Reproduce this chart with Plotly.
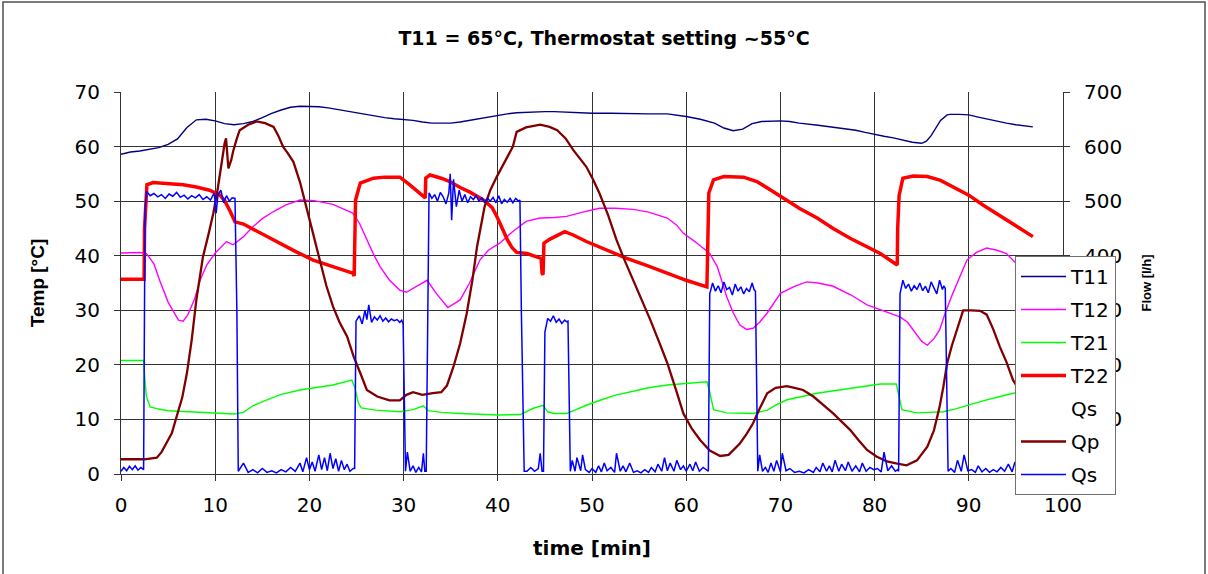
import plotly.graph_objects as go

# ---------------- data ----------------
t11_t = [0, 1, 2, 3, 4, 5, 6, 7, 8, 9, 10, 11, 12, 13, 14, 15, 16, 17, 18, 19, 20, 21, 22, 23, 24, 25, 26, 27, 28, 29, 30,
         31, 32, 33, 34, 35, 36, 37, 38, 39, 40, 41, 42, 43, 44, 45, 46, 47, 48, 49, 50, 52, 54, 56, 58, 59, 60, 61.5, 63, 64,
         65, 66, 67, 68, 69, 70, 71, 72, 74, 76, 78, 79, 80, 81, 82, 83, 84, 85, 85.5, 86, 86.5, 87, 87.7, 88, 89, 90, 91, 92,
         93, 94, 95, 96, 96.8]
t11_v = [58.6, 59.0, 59.2, 59.5, 59.8, 60.4, 61.4, 63.5, 64.9, 65.0, 64.7, 64.2, 64.0, 64.2, 64.6, 65.3, 66.1, 66.7, 67.2, 67.4, 67.4,
         67.3, 67.1, 66.8, 66.4, 66.1, 65.8, 65.5, 65.3, 65.1, 65.0, 64.8, 64.5, 64.3, 64.3, 64.3, 64.5, 64.8, 65.2, 65.5, 65.8,
         66.0, 66.2, 66.3, 66.4, 66.4, 66.4, 66.3, 66.2, 66.2, 66.1, 66.1, 66.0, 66.0, 66.0, 65.8, 65.5, 65.0, 64.3, 63.4,
         62.9, 63.2, 64.2, 64.6, 64.7, 64.7, 64.6, 64.3, 63.9, 63.5, 63.0, 62.6, 62.2, 61.9, 61.6, 61.2, 60.8, 60.6, 61.0,
         62.0, 63.5, 64.8, 65.8, 65.9, 65.9, 65.8, 65.4, 65.0, 64.6, 64.3, 64.0, 63.8, 63.6]

t12_t = [0, 1, 2, 2.7, 3.5, 4.1, 5, 6.1, 6.6, 7.1, 7.8, 8.4, 9.1, 10, 11.2, 11.9, 13, 14, 15, 16.2, 17.5, 19, 20.5, 22.5, 24.6,
         25.3, 26.1, 26.8, 27.5, 28.5, 29.6, 30.3, 31.5, 32.5, 33.5, 34.7, 36, 37, 38.1, 39, 40.2, 41.5, 43, 44.5, 46, 47.3,
         49, 50.8, 52.5, 54.4, 56, 58, 59, 59.7, 61, 62.5, 63.3, 64.3, 65, 65.7, 66.4, 67.1, 67.8, 68.6, 70, 71.5, 72.8, 74,
         75.6, 77.5, 79.2, 81, 82.7, 83.5, 84.1, 85, 85.6, 86.3, 86.9, 87.5, 88.3, 89, 89.8, 90.8, 91.9, 93, 94, 94.9, 96, 96.8]
t12_v = [40.5, 40.6, 40.6, 40.4, 38.5, 35.5, 31.5, 28.2, 28.0, 29.2, 32.0, 35.5, 38.3, 40.5, 42.6, 42.0, 43.5, 45.3, 46.8, 48.1,
         49.3, 50.2, 50.1, 49.4, 47.8, 46.0, 42.9, 40.3, 38.0, 35.5, 33.7, 33.3, 34.5, 35.5, 33.0, 30.5, 31.9, 35.0, 39.2, 41.0,
         42.3, 44.3, 46.3, 46.9, 47.0, 47.2, 48.0, 48.7, 48.7, 48.5, 48.0, 46.9, 45.6, 44.1, 42.5, 40.4, 38.0, 32.5, 29.5, 27.3,
         26.5, 26.7, 27.8, 29.5, 33.1, 34.4, 35.2, 35.0, 34.4, 32.8, 31.0, 29.9, 28.8, 27.8, 26.4, 24.3, 23.6, 24.8, 26.4, 29.5,
         33.1, 36.0, 39.2, 40.6, 41.4, 41.0, 40.4, 38.8, 37.8, 37.5]

t21_t = [0, 2.4, 2.55, 2.7, 3.1, 4, 5, 8, 10, 12, 13, 14, 15.5, 17, 19, 21, 22.5, 24.5, 24.8, 25.2, 25.5, 27, 29.6, 31, 32.1, 32.6,
         34, 36, 38, 40, 42.4, 43.7, 44.8, 45.3, 46, 47.3, 48.3, 49.4, 51, 52.6, 54.5, 56, 58, 60, 62.2, 62.5, 62.9, 64.3, 67.1,
         68.6, 69.5, 70.7, 72, 73.9, 75.5, 77.4, 79, 80.6, 82.3, 82.6, 82.9, 84.5, 87.3, 88.5, 89.8, 91.5, 93.3, 94.7, 96.8]
t21_v = [20.8, 20.8, 17.0, 14.2, 12.3, 11.9, 11.6, 11.4, 11.2, 11.0, 11.3, 12.5, 13.6, 14.6, 15.4, 15.9, 16.3, 17.2, 16.0, 13.0,
         12.1, 11.7, 11.4, 11.8, 12.5, 11.6, 11.3, 11.1, 10.9, 10.8, 10.9, 12.0, 12.6, 11.4, 11.1, 11.1, 11.8, 12.6, 13.6, 14.5,
         15.2, 15.8, 16.3, 16.6, 16.9, 15.0, 11.8, 11.2, 11.1, 11.7, 12.6, 13.6, 14.1, 14.8, 15.2, 15.7, 16.1, 16.5, 16.5, 14.0,
         11.8, 11.2, 11.4, 11.9, 12.6, 13.4, 14.2, 14.8, 15.2]

t22_t = [0, 2.45, 2.5, 2.6, 2.75, 3.4, 5, 6.6, 8, 9.4, 10.5, 11, 11.6, 12.1, 13, 14.5, 16.2, 18.5, 20.4, 22.5, 24.6, 24.75, 24.8,
         24.9, 25.4, 26.8, 28, 29.6, 30.5, 31.5, 32.3, 32.35, 32.8, 34, 34.9, 36, 37, 38.5, 39.4, 39.9, 40.5, 41, 41.5, 42, 43.1,
         44.6, 44.7, 44.8, 44.9, 45.5, 47.1, 48, 49.4, 51, 53.7, 56, 58, 60, 62.2, 62.3, 62.4, 62.9, 64, 66.1, 67.5, 69, 70.3,
         72, 73.9, 75.6, 77.4, 79, 80.6, 82.4, 82.45, 82.6, 83, 84.1, 85.6, 87, 88.3, 90, 91.5, 93.3, 95.1, 96.8]
t22_v = [35.7, 35.7, 45.0, 50.0, 53.0, 53.4, 53.2, 53.0, 52.6, 52.0, 51.1, 50.1, 48.1, 46.2, 45.8, 44.4, 42.9, 40.8, 39.2, 38.0,
         36.8, 36.3, 45.0, 50.2, 53.3, 54.2, 54.4, 54.4, 53.2, 51.8, 50.6, 54.2, 54.8, 54.2, 53.6, 52.5, 51.7, 50.2, 48.8, 47.2,
         44.8, 43.0, 41.5, 40.6, 40.4, 39.5, 36.8, 36.5, 42.3, 43.0, 44.4, 43.8, 42.6, 41.4, 39.5, 38.1, 36.8, 35.5, 34.3, 45.0,
         51.5, 53.9, 54.5, 54.4, 53.6, 52.0, 50.5, 48.7, 46.9, 45.0, 43.2, 41.8, 40.4, 38.3, 45.0, 51.0, 54.2, 54.6, 54.5, 53.8,
         52.7, 51.1, 49.3, 47.3, 45.3, 43.5]

qp_t = [0, 2.5, 3.8, 4.3, 4.8, 5.4, 5.9, 6.5, 7, 7.5, 8, 8.4, 8.7, 9.3, 9.8, 10.2, 10.5, 10.8, 11, 11.15, 11.3, 11.4, 11.7, 11.9,
        12.3, 12.6, 13.5, 14.4, 15.3, 16.2, 16.7, 17.2, 17.7, 18.3, 19, 19.7, 20.4, 21.1, 21.8, 22.5, 23.2, 24, 24.7, 25.4,
        26.1, 27.2, 28.5, 29.6, 30.3, 31, 32, 33.1, 34, 34.6, 35.3, 36, 36.7, 37.3, 37.8, 38.6, 39.2, 39.9, 40.8, 41.6, 42,
        43, 44.5, 45.5, 46.3, 47.2, 48, 48.7, 49.4, 50.1, 50.8, 51.7, 52.6, 53.5, 54.4, 55.3, 56.2, 57.1, 58, 58.9, 59.7,
        60.6, 61.5, 62.5, 63.6, 64.5, 65.1, 65.7, 66.4, 67.1, 67.8, 68.6, 69.5, 70.7, 71.5, 72.4, 73.5, 74.5, 75.6, 76.5,
        77.4, 78.3, 79.2, 80.2, 81.3, 82.4, 83.4, 84.5, 85.6, 86.3, 86.9, 87.3, 87.7, 88.2, 88.7, 89.4, 90.3, 91.2, 91.9,
        92.6, 93.3, 94, 94.7, 95.5, 96.2, 96.8]
qp_v = [27, 27, 30, 40, 56, 75, 105, 140, 185, 245, 319, 365, 398, 440, 478, 515, 551, 585, 606, 615, 570, 560, 575, 591,
        615, 630, 640, 646, 643, 636, 620, 600, 588, 572, 535, 490, 440, 392, 345, 307, 278, 252, 215, 185,
        154, 142, 135, 135, 145, 150, 145, 148, 150, 162, 197, 239, 294, 355, 417, 490, 520, 545, 575, 600, 627,
        635, 640, 636, 630, 615, 594, 578, 563, 540, 514, 475, 429, 390, 355, 318, 282, 243, 203, 155, 111,
        83, 62, 43, 33, 35, 45, 56, 73, 93, 120, 148, 158, 161, 158, 154, 142, 128, 111, 96,
        81, 62, 44, 32, 23, 19, 16, 25, 50, 80, 123, 160, 203, 235, 264, 300, 300, 299, 292,
        265, 233, 205, 172, 150, 140, 135]

qs_t = [0, 0.3, 0.6, 0.9, 1.2, 1.5, 1.8, 2.1, 2.4, 2.55, 2.7, 3.1, 3.5, 3.9, 4.3, 4.7, 5.1, 5.5, 5.9, 6.3, 6.7, 7.1, 7.5, 7.9,
        8.3, 8.7, 9.1, 9.5, 9.9, 10.1, 10.3, 10.6, 10.9, 11.2, 11.5, 11.8, 12.1, 12.3, 12.45,
        13, 13.5, 14, 14.5, 15, 15.5, 16, 16.5, 17, 17.5, 18, 18.5, 19, 19.3, 19.7, 20, 20.3, 20.6, 21, 21.3, 21.6, 21.9,
        22.2, 22.5, 22.8, 23.1, 23.4, 23.7, 24, 24.3, 24.65,
        24.8, 24.95, 25.3, 25.6, 25.9, 26.1, 26.3, 26.6, 26.9, 27.2, 27.5, 27.8, 28.1, 28.4, 28.7, 29.0, 29.3, 29.6, 29.8, 29.95,
        30.2, 30.4, 30.7, 31, 31.3, 31.6, 31.9, 32.1, 32.25,
        32.4, 32.7, 33.0, 33.3, 33.6, 33.9, 34.2, 34.5, 34.8, 34.95, 35.1, 35.3, 35.6, 35.9, 36.2, 36.5, 36.8, 37.1, 37.4,
        37.7, 38.0, 38.3, 38.6, 38.9, 39.2, 39.5, 39.8, 40.1, 40.4, 40.7, 41.0, 41.3, 41.6, 41.9, 42.2, 42.35, 42.5,
        42.8, 43.1, 43.5, 43.9, 44.3, 44.5, 44.7,
        44.85, 45.0, 45.3, 45.6, 45.9, 46.2, 46.5, 46.8, 47.1, 47.3, 47.45,
        47.7, 47.9, 48.2, 48.4, 48.8, 49.0, 49.3, 49.7, 50.0, 50.4, 50.7, 51, 51.3, 51.6, 52, 52.4, 52.6, 53, 53.3, 53.6, 54,
        54.4, 54.8, 55.2, 55.6, 56, 56.3, 56.7, 57, 57.4, 57.7, 58, 58.3, 58.7, 59, 59.4, 59.7, 60, 60.4, 60.7, 61, 61.4,
        61.8, 62.1, 62.25,
        62.35, 62.5, 62.8, 63.1, 63.4, 63.7, 64.0, 64.3, 64.6, 64.9, 65.2, 65.5, 65.8, 66.1, 66.4, 66.7, 67.0, 67.2, 67.35,
        67.6, 67.8, 68.1, 68.4, 68.7, 69, 69.3, 69.6, 70, 70.2, 70.6, 71, 71.5, 72, 72.5, 73, 73.5, 73.8, 74.2, 74.5, 74.9,
        75.2, 75.5, 75.8, 76.2, 76.5, 76.9, 77.2, 77.6, 78, 78.4, 78.7, 79.1, 79.5, 79.9, 80.3, 80.7, 81, 81.4, 81.8, 82.2, 82.45,
        82.55, 82.7, 83.0, 83.3, 83.6, 83.9, 84.2, 84.5, 84.8, 85.1, 85.4, 85.7, 86.0, 86.3, 86.6, 86.9, 87.2, 87.35, 87.5,
        87.8, 88.1, 88.5, 88.8, 89.2, 89.5, 89.9, 90.3, 90.7, 91.0, 91.4, 91.8, 92.2, 92.6, 93, 93.4, 93.8, 94.2, 94.6, 94.9,
        95.3, 95.7, 96.1, 96.5, 96.8]
qs_v = [5, 12, 6, 14, 8, 15, 7, 12, 8, 480, 518, 510, 514, 508, 512, 505, 513, 509, 516, 507, 511, 504, 510, 506,
        512, 503, 508, 502, 515, 478, 512, 520, 497, 510, 500, 506, 505, 300, 5,
        20, 3, 8, 2, 10, 3, 6, 2, 8, 4, 12, 5, 20, 4, 30, 8, 22, 5, 35, 8, 30, 6,
        38, 10, 28, 5, 25, 8, 18, 5, 10,
        10, 280, 290, 275, 300, 283, 310, 278, 288, 282, 290, 280, 286, 279, 284, 281, 283, 278, 282, 275, 5,
        40, 5, 15, 3, 12, 4, 38, 5, 5,
        515, 505, 512, 500, 516, 508, 495, 515, 550, 465, 540, 490, 520, 500, 512, 497, 508, 503, 510,
        500, 506, 498, 505, 500, 507, 497, 510, 495, 503, 498, 505, 497, 505, 500, 502, 300, 5,
        5, 12, 5, 10, 38, 5, 5,
        260, 285, 280, 290, 278, 284, 276, 282, 279, 280, 5,
        25, 5, 30, 6, 35, 8, 3, 10, 3, 15, 4, 20, 6, 12, 3, 38, 5, 15, 4, 20, 3,
        6, 2, 8, 3, 12, 4, 18, 5, 30, 6, 20, 5, 25, 8, 15, 5, 18, 6, 22, 5, 12,
        8, 5, 5,
        330, 350, 335, 345, 332, 352, 338, 342, 328, 348, 335, 343, 330, 340, 334, 350, 338, 335, 5,
        35, 5, 12, 3, 20, 5, 25, 4, 38, 6, 10, 3, 5, 2, 8, 3, 12, 4, 20, 5, 15,
        4, 25, 5, 18, 6, 22, 5, 15, 4, 20, 5, 12, 8, 10, 4, 40, 6, 15, 5, 8, 5,
        330, 355, 340, 348, 335, 345, 338, 350, 336, 344, 332, 352, 340, 330, 355, 338, 345, 340, 5,
        10, 3, 25, 5, 35, 6, 8, 3, 15, 4, 10, 3, 8, 4, 12, 5, 18, 4, 22, 5,
        10, 6, 15, 5, 8]

x_ticks = [0, 10, 20, 30, 40, 50, 60, 70, 80, 90, 100]

# ---------------- figure ----------------
WIDE = "DejaVu Sans, Verdana, sans-serif"
NARROW = "Liberation Sans, Arial, sans-serif"
fig = go.Figure()

def add(x, y, name, color, width, axis="y"):
    fig.add_trace(go.Scatter(x=x, y=y, name=name, mode="lines", yaxis=axis,
                             line=dict(color=color, width=width), legendgroup=name + axis + str(width)))

add(t11_t, t11_v, "T11", "#000080", 1.4)
add(t12_t, t12_v, "T12", "#FF00FF", 1.4)
add(t21_t, t21_v, "T21", "#00FF00", 1.4)
add(t22_t, t22_v, "T22", "#FF0000", 3.5)
fig.add_trace(go.Scatter(x=[None], y=[None], name="Qs", mode="lines", yaxis="y2",
                         line=dict(color="rgba(0,0,0,0)", width=1), legendgroup="qs_blank"))
add(qp_t, qp_v, "Qp", "#800000", 2.3, "y2")
add(qs_t, qs_v, "Qs", "#0000FF", 1.5, "y2")

L, R, T, B = 121, 145, 92, 100
W, H = 1208, 574
pw, ph = W - L - R, H - T - B

def px(xp):
    return (xp - L) / pw

def py(yp):
    return (H - B - yp) / ph

axis_common = dict(ticks="outside", ticklen=6, tickcolor="#333333", showline=True, linecolor="#333333",
                   zeroline=False, tickfont=dict(size=20, family=WIDE))

fig.update_layout(
    width=W, height=H,
    margin=dict(l=L, r=R, t=T, b=B),
    paper_bgcolor="white", plot_bgcolor="white",
    font=dict(family=WIDE, color="black", size=19),
    title=dict(text="<b>T11 = 65°C, Thermostat setting ~55°C</b>", x=0.5, xref="container", xanchor="center",
               y=1 - 38 / H, yref="container", yanchor="middle", font=dict(size=19, family=WIDE)),
    xaxis=dict(range=[0, 100], tickvals=x_ticks, showgrid=True, gridcolor="#333333", gridwidth=1,
               ticklabelstandoff=7,
               title=dict(text="<b>time [min]</b>", font=dict(size=20, family=WIDE), standoff=24),
               **axis_common),
    yaxis=dict(range=[0, 70], dtick=10, showgrid=True, gridcolor="#333333", gridwidth=1,
               ticklabelstandoff=10,
               title=dict(text="<b>Temp [°C]</b>", font=dict(size=19, family=NARROW), standoff=24),
               **axis_common),
    yaxis2=dict(range=[0, 700], dtick=100, overlaying="y", side="right", showgrid=False,
                ticklabelstandoff=10,
                title=dict(text="<b>Flow [l/h]</b>", font=dict(size=13, family=NARROW), standoff=20),
                **axis_common),
    legend=dict(x=px(1015), y=py(256), xanchor="left", yanchor="top", bgcolor="white",
                bordercolor="#707070", borderwidth=1, font=dict(size=20, family=WIDE),
                tracegroupgap=4, itemwidth=45, traceorder="grouped"),
    shapes=[dict(type="rect", xref="paper", yref="paper", x0=px(3), x1=px(1205), y0=py(585), y1=py(2),
                 line=dict(color="#505050", width=1.5), fillcolor="rgba(0,0,0,0)", layer="below")],
    showlegend=True,
)

fig.write_html("out.html")
